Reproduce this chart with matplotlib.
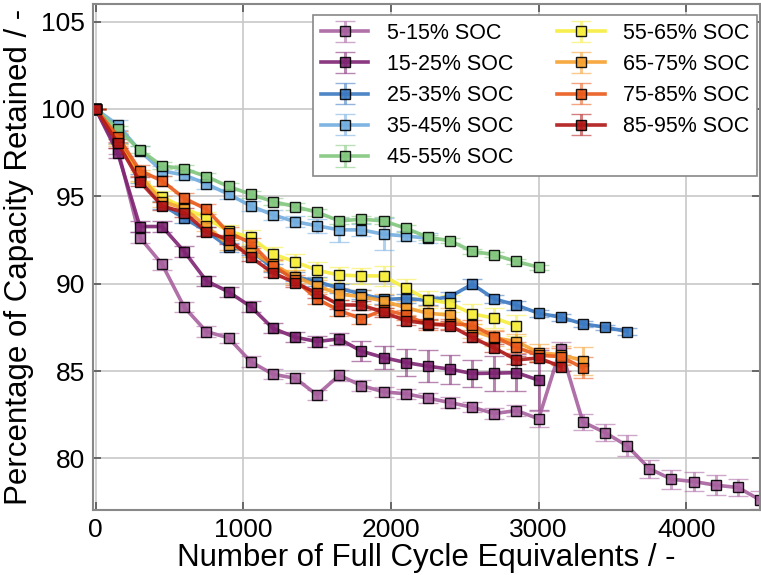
import matplotlib
matplotlib.use("Agg")
import matplotlib.pyplot as plt
import numpy as np

plt.rcParams['font.family'] = ['Liberation Sans', 'DejaVu Sans']

step = 150
labels = ["5-15% SOC", "15-25% SOC", "25-35% SOC", "35-45% SOC", "45-55% SOC",
          "55-65% SOC", "65-75% SOC", "75-85% SOC", "85-95% SOC"]
colors = ["#a8609f", "#7e2372", "#3b79c2", "#72ade0", "#82c77e",
          "#f7ee3c", "#f7a02e", "#ea5a1a", "#b01616"]

soc_05_15 = [100, 97.7, 92.64, 91.11, 88.66, 87.26, 86.90, 85.54, 84.82, 84.59, 83.64,
             84.76, 84.17, 83.81, 83.70, 83.45, 83.20, 82.93, 82.57, 82.74, 82.27,
             86.29, 82.09, 81.48, 80.72, 79.42, 78.81, 78.68, 78.47, 78.34, 77.63]
err_05_15 = [0, 0.3, 0.3, 0.3, 0.3, 0.3, 0.3, 0.3, 0.3, 0.3, 0.3,
             0.3, 0.3, 0.3, 0.3, 0.3, 0.3, 0.3, 0.3, 0.3, 0.45,
             0.35, 0.44, 0.5, 0.6, 0.52, 0.55, 0.57, 0.57, 0.5, 0.5]
soc_15_25 = [100, 97.47, 93.27, 93.27, 91.84, 90.16, 89.53, 88.69, 87.45, 86.94, 86.69,
             86.84, 86.14, 85.77, 85.49, 85.28, 85.11, 84.86, 84.88, 84.91, 84.48]
err_15_25 = [0, 0.3, 0.3, 0.3, 0.3, 0.3, 0.3, 0.3, 0.3, 0.3, 0.3,
             0.35, 0.57, 0.68, 0.78, 0.92, 0.83, 0.77, 1.0, 1.05, 1.7]
soc_25_35 = [100, 98.3, 96.0, 94.5, 93.75, 93.0, 92.09, 91.9, 90.9, 90.4, 90.12,
             89.74, 89.4, 89.1, 89.15, 89.05, 89.26, 89.97, 89.13, 88.77, 88.31,
             88.08, 87.70, 87.51, 87.26]
err_25_35 = [0, 0.25, 0.25, 0.25, 0.25, 0.25, 0.25, 0.25, 0.25, 0.25, 0.25,
             0.25, 0.25, 0.25, 0.25, 0.25, 0.25, 0.3, 0.25, 0.25, 0.2,
             0.2, 0.15, 0.15, 0.2]
soc_35_45 = [100, 99.08, 97.6, 96.45, 96.22, 95.71, 95.12, 94.45, 93.94, 93.55, 93.31,
             93.08, 93.08, 92.83, 92.73, 92.6]
err_35_45 = [0, 0.3, 0.3, 0.3, 0.3, 0.3, 0.3, 0.3, 0.3, 0.3, 0.4,
             0.7, 0.35, 0.9, 0.3, 0.3]
soc_45_55 = [100, 98.84, 97.65, 96.74, 96.57, 96.13, 95.56, 95.12, 94.70, 94.41, 94.09,
             93.59, 93.69, 93.59, 93.17, 92.66, 92.45, 91.86, 91.65, 91.27, 90.94]
err_45_55 = [0, 0.2, 0.2, 0.2, 0.2, 0.2, 0.2, 0.2, 0.2, 0.2, 0.2,
             0.2, 0.2, 0.2, 0.2, 0.15, 0.15, 0.15, 0.15, 0.15, 0.15]
soc_55_65 = [100, 98.3, 96.1, 94.98, 94.33, 93.75, 93.0, 92.65, 91.70, 91.25, 90.77,
             90.49, 90.45, 90.44, 89.74, 89.09, 88.88, 88.27, 88.03, 87.59]
err_55_65 = [0, 0.3, 0.3, 0.3, 0.3, 0.35, 0.35, 0.4, 0.4, 0.45, 0.45,
             0.45, 0.45, 0.57, 0.5, 0.5, 0.5, 0.55, 0.55, 0.6]
soc_65_75 = [100, 98.2, 96.2, 94.7, 94.3, 93.3, 92.22, 91.84, 91.1, 90.41, 89.87,
             89.40, 89.26, 89.01, 88.63, 88.31, 88.2, 87.32, 86.9, 86.69, 86.06,
             85.93, 85.6]
err_65_75 = [0, 0.3, 0.3, 0.3, 0.3, 0.3, 0.3, 0.3, 0.3, 0.35, 0.35,
             0.35, 0.4, 0.4, 0.4, 0.4, 0.4, 0.4, 0.45, 0.45, 0.5,
             0.5, 0.8]
soc_75_85 = [100, 98.42, 96.47, 95.88, 94.89, 94.26, 92.92, 92.34, 91.04, 90.2, 89.13,
             88.46, 87.99, 88.5, 88.22, 87.64, 87.7, 87.64, 86.97, 86.36, 85.9,
             85.83, 85.18]
err_75_85 = [0, 0.3, 0.3, 0.3, 0.3, 0.3, 0.3, 0.3, 0.3, 0.3, 0.3,
             0.3, 0.3, 0.3, 0.3, 0.3, 0.3, 0.3, 0.3, 0.3, 0.4,
             0.5, 0.6]
soc_85_95 = [100, 98.04, 95.84, 94.45, 94.07, 92.98, 92.51, 91.52, 90.62, 90.06, 89.45,
             88.79, 88.77, 88.37, 87.88, 87.72, 87.6, 86.93, 86.32, 85.64, 85.75,
             85.26]
err_85_95 = [0, 0.25, 0.25, 0.25, 0.25, 0.25, 0.25, 0.25, 0.25, 0.25, 0.25,
             0.25, 0.25, 0.25, 0.25, 0.25, 0.25, 0.25, 0.25, 0.25, 0.25,
             0.25]

series = [soc_05_15, soc_15_25, soc_25_35, soc_35_45, soc_45_55,
          soc_55_65, soc_65_75, soc_75_85, soc_85_95]
errors = [err_05_15, err_15_25, err_25_35, err_35_45, err_45_55,
          err_55_65, err_65_75, err_75_85, err_85_95]

fig = plt.figure(figsize=(7.61, 5.75), dpi=100)
ax = fig.add_axes([0.1218, 0.113, 0.877, 0.880])

for lab, col, vals, errs in zip(labels, colors, series, errors):
    x = np.arange(len(vals)) * step
    eb = ax.errorbar(x, vals, yerr=errs, color=col, lw=2.6, marker='s', ms=7.0,
                     mfc=col, mec='black', mew=1.0, capsize=7, elinewidth=2.2,
                     capthick=1.8, label=lab, alpha=0.9)
    for c in eb[1]:
        c.set_alpha(0.55)
    for c in eb[2]:
        c.set_alpha(0.55)

ax.set_xlim(-20, 4500)
ax.set_ylim(77.05, 106.0)
ax.set_xticks([0, 1000, 2000, 3000, 4000])
ax.set_yticks([80, 85, 90, 95, 100, 105])
ax.grid(True, color='#c8c8c8', lw=1.2)
ax.set_axisbelow(True)
for s in ax.spines.values():
    s.set_color('#888888')
    s.set_linewidth(1.5)
ax.tick_params(direction='in', length=6, width=1.2, color='#555555',
               top=True, right=True, labelsize=19, pad=5.5)
ax.set_xlabel("Number of Full Cycle Equivalents / -", fontsize=22.5, labelpad=1)
ax.set_ylabel("Percentage of Capacity Retained / -", fontsize=22.5, labelpad=5)

leg = ax.legend(ncol=2, loc='upper right', bbox_to_anchor=(0.9955, 0.978),
                borderaxespad=0, fontsize=15.5, fancybox=False, framealpha=1,
                handlelength=2.2, columnspacing=2.05, labelspacing=0.47,
                handletextpad=0.85, borderpad=0.36)
leg.get_frame().set_edgecolor('#888888')
leg.get_frame().set_linewidth(1.2)

fig.savefig("out.png", dpi=100)
